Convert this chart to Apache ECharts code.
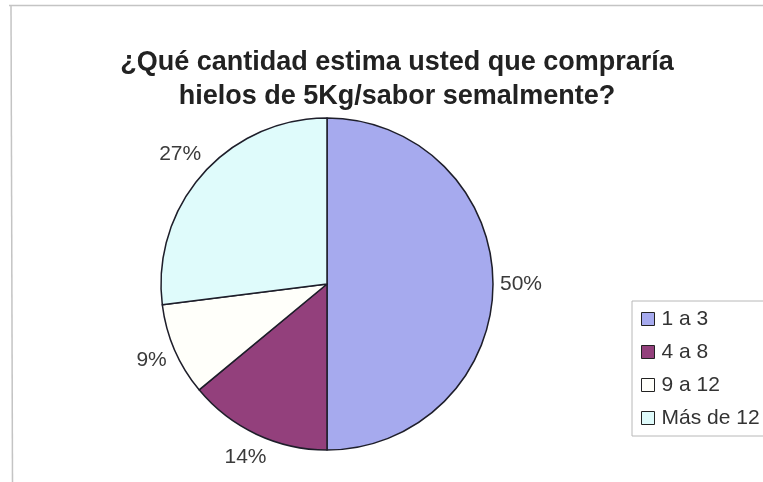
<!DOCTYPE html>
<html>
<head>
<meta charset="utf-8">
<script src="https://cdn.jsdelivr.net/npm/echarts@6/dist/echarts.min.js"></script>
<style>
  html, body { margin: 0; padding: 0; background: #fff; }
  #chart { width: 763px; height: 482px; }
</style>
</head>
<body>
<div id="chart"></div>
<script>
// Survey answers: weekly quantity of 5 kg ice bags per flavour
const categories = ['1 a 3', '4 a 8', '9 a 12', 'Más de 12'];
const shares = [50, 14, 9, 27];
const sliceColors = ['#A6AAEE', '#93407C', '#FFFFFA', '#DFFBFB'];
const titleLines = ['¿Qué cantidad estima usted que compraría', 'hielos de 5Kg/sabor semalmente?'];

const chart = echarts.init(document.getElementById('chart'));
const font = '"Liberation Sans", Arial, sans-serif';

const pieCenter = [327, 284];
const pieRadius = 166;
const labelGap = 7;

// Mid-angle direction of each slice (clockwise from 12 o'clock)
const total = shares.reduce((a, b) => a + b, 0);
let acc = 0;
const midDirs = shares.map(v => {
  const mid = (acc + v / 2) / total * Math.PI * 2;
  acc += v;
  return [Math.sin(mid), -Math.cos(mid)];
});

chart.setOption({
  backgroundColor: '#ffffff',
  animation: false,
  title: {
    text: titleLines.join('\n'),
    left: 392,
    top: 41,
    textAlign: 'center',
    textStyle: {
      fontFamily: font,
      fontWeight: 'bold',
      fontSize: 27,
      lineHeight: 34,
      color: '#222'
    }
  },
  legend: {
    orient: 'vertical',
    left: 632,
    top: 301,
    padding: [7, 60, 7, 9],
    borderColor: '#b8b8b8',
    borderWidth: 1,
    itemWidth: 13,
    itemHeight: 13,
    itemGap: 11,
    icon: 'rect',
    data: categories,
    itemStyle: { borderColor: '#222', borderWidth: 1 },
    textStyle: { fontFamily: font, fontSize: 21, lineHeight: 22, color: '#333', padding: [0, 0, 0, 2] }
  },
  graphic: [
    { type: 'line', shape: { x1: 9, y1: 5.5, x2: 763, y2: 5.5 }, style: { stroke: '#c4c4c4', lineWidth: 1.5 } },
    { type: 'line', shape: { x1: 11, y1: 5, x2: 12.5, y2: 482 }, style: { stroke: '#c4c4c4', lineWidth: 1.5 } }
  ],
  series: [{
    type: 'pie',
    center: pieCenter,
    radius: pieRadius,
    startAngle: 90,
    clockwise: true,
    avoidLabelOverlap: false,
    itemStyle: { borderColor: '#1e1e2a', borderWidth: 1.5 },
    label: {
      show: true,
      position: 'outside',
      formatter: '{d}%',
      fontFamily: font,
      fontSize: 21,
      color: '#3a3a3a'
    },
    labelLine: { show: false },
    // Place each label just outside the rim along its slice's mid-angle
    labelLayout: function (params) {
      const d = midDirs[params.dataIndex];
      const w = params.labelRect.width, h = params.labelRect.height;
      const half = Math.abs(d[0]) * w / 2 + Math.abs(d[1]) * h / 2;
      const dist = pieRadius + labelGap + half;
      return {
        x: pieCenter[0] + d[0] * dist,
        y: pieCenter[1] + d[1] * dist,
        align: 'center',
        verticalAlign: 'middle'
      };
    },
    data: categories.map((name, i) => ({
      name,
      value: shares[i],
      itemStyle: { color: sliceColors[i] }
    }))
  }]
});
</script>
</body>
</html>
